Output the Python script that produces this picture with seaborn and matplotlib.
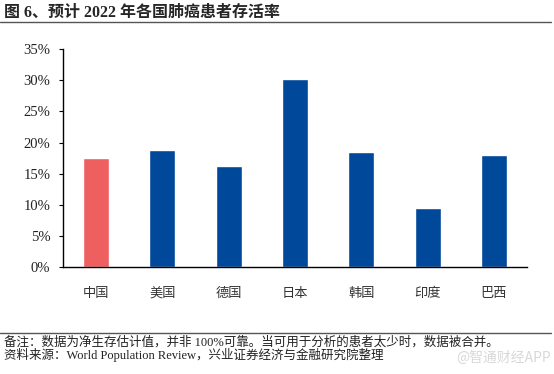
import matplotlib
matplotlib.use("Agg")
import matplotlib.pyplot as plt
import seaborn as sns
import pandas as pd
from matplotlib.ticker import FuncFormatter, MultipleLocator
from matplotlib.lines import Line2D

countries = ["中国", "美国", "德国", "日本", "韩国", "印度", "巴西"]
survival = [17.6, 18.8, 16.3, 30.2, 18.5, 9.6, 18.0]
bar_colors = ["#EE5F5F", "#00489A", "#00489A", "#00489A", "#00489A", "#00489A", "#00489A"]

title = "图 6、预计 2022 年各国肺癌患者存活率"
note = "备注：数据为净生存估计值，并非 100%可靠。当可用于分析的患者太少时，数据被合并。"
source = "资料来源：World Population Review，兴业证券经济与金融研究院整理"
watermark = "@智通财经APP"

sns.set_theme(style="white")
plt.rcParams['font.family'] = ['Liberation Serif', 'Noto Sans CJK SC', 'DejaVu Sans']

df = pd.DataFrame({"country": countries, "rate": survival})

fig = plt.figure(figsize=(5.54, 3.74), dpi=100)
ax = fig.add_axes([0.1137, 0.2848, 0.9513 - 0.1137, 0.869 - 0.2848])
sns.barplot(data=df, x="country", y="rate", hue="country", palette=bar_colors,
            legend=False, width=0.39, ax=ax, saturation=1)

ax.set_ylim(0, 35)
ax.set_xlim(-0.5, 6.5)
ax.yaxis.set_major_locator(MultipleLocator(5))
ax.yaxis.set_major_formatter(FuncFormatter(lambda v, p: f"{int(round(v))}%"))
ax.set_xlabel("")
ax.set_ylabel("")
for s in ["top", "right"]:
    ax.spines[s].set_visible(False)
for s in ["left", "bottom"]:
    ax.spines[s].set_color("black")
    ax.spines[s].set_linewidth(1.0)
ax.tick_params(axis="y", left=True, direction="out", length=3, width=0.8, pad=6,
               labelsize=10.5, colors="black", labelcolor="#222222")
ax.tick_params(axis="x", bottom=False, pad=8, labelsize=9.5, labelcolor="#333333")
for lab in ax.get_xticklabels():
    lab.set_family(['Noto Sans CJK SC'])

fig.text(0.008, 0.966, title, fontsize=11.5, fontweight="bold", va="center", ha="left",
         family=['Liberation Serif', 'Noto Sans CJK SC'])
fig.add_artist(Line2D([0.0, 0.995], [1 - 22/374, 1 - 22/374], color="#555555", lw=1.0))
fig.add_artist(Line2D([0.0, 0.995], [1 - 333/374, 1 - 333/374], color="#555555", lw=1.0))

fig.text(0.008, 1 - 342/374, note, fontsize=9, va="center", ha="left",
         family=['Liberation Serif', 'Noto Sans CJK SC'], color="#222222")
fig.text(0.008, 1 - 355/374, source, fontsize=9, va="center", ha="left",
         family=['Liberation Serif', 'Noto Sans CJK SC'], color="#222222")
fig.text(0.995, 1 - 358/374, watermark, fontsize=10, va="center", ha="right",
         family=['Noto Sans CJK SC'], color="#d8d8d8")

fig.savefig("out.png", dpi=100)
